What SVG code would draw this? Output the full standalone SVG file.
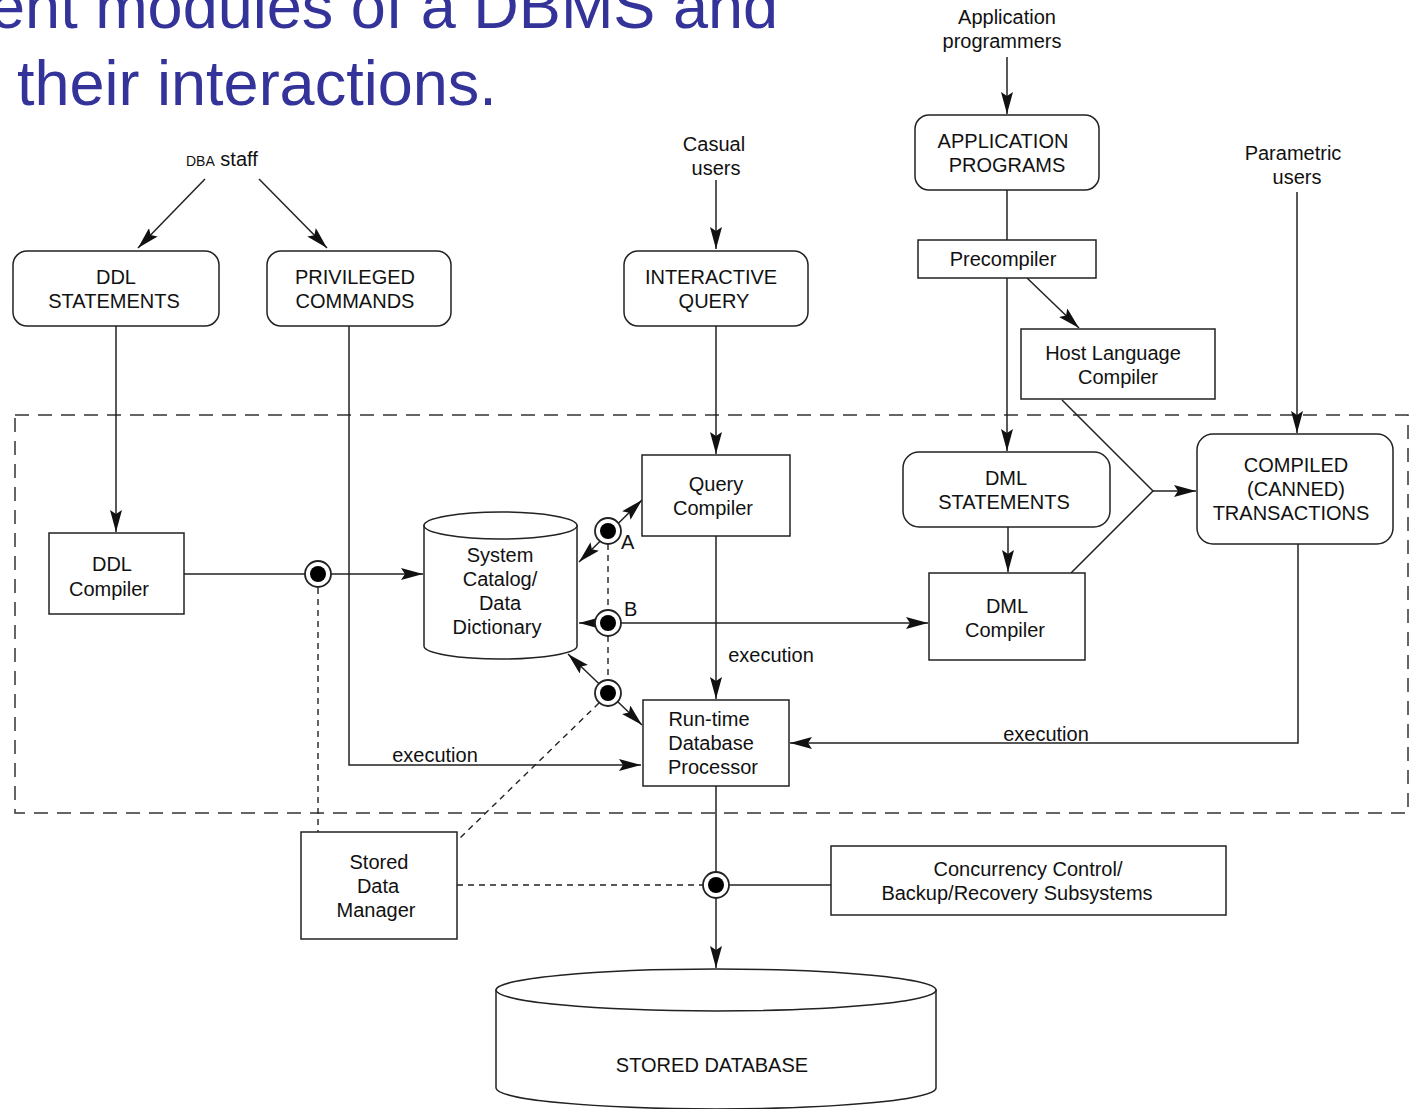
<svg xmlns="http://www.w3.org/2000/svg" width="1410" height="1109" viewBox="0 0 1410 1109">
<style>
  text { font-family: "Liberation Sans", Arial, sans-serif; font-size: 20px; fill: #111; text-anchor: middle; }
  .title { font-size: 63px; fill: #333399; text-anchor: start; }
  .box { fill: #fff; stroke: #222; stroke-width: 1.5; }
  .ln { fill: none; stroke: #222; stroke-width: 1.5; }
  .dash { fill: none; stroke: #222; stroke-width: 1.4; stroke-dasharray: 6 5; }
  .bound { fill: none; stroke: #333; stroke-width: 1.5; stroke-dasharray: 14 9; }
  .dotring { fill: #fff; stroke: #222; stroke-width: 1.8; }
  .dotcore { fill: #000; }
</style>
<defs>
  <marker id="arr" markerUnits="userSpaceOnUse" markerWidth="22" markerHeight="12" refX="22" refY="6" orient="auto-start-reverse">
    <path d="M0,0 L22,6 L0,12 L4,6 Z" fill="#111"/>
  </marker>
</defs>
<rect width="1410" height="1109" fill="#fff"/>

<g id="title">
  <text class="title" x="778" y="28" style="text-anchor:end">ent modules of a DBMS and</text>
  <text class="title" x="17" y="105">their interactions.</text>
</g>

<g id="boundary">
  <rect class="bound" x="15" y="415" width="1393" height="398"/>
</g>

<g id="connectors">
  <line class="ln" x1="205" y1="179" x2="138" y2="248" marker-end="url(#arr)"/>
  <line class="ln" x1="259" y1="179" x2="327" y2="248" marker-end="url(#arr)"/>
  <line class="ln" x1="116" y1="326" x2="116" y2="532" marker-end="url(#arr)"/>
  <polyline class="ln" points="349,326 349,765 641,765" marker-end="url(#arr)"/>
  <line class="ln" x1="716" y1="180" x2="716" y2="249" marker-end="url(#arr)"/>
  <line class="ln" x1="716" y1="326" x2="716" y2="454" marker-end="url(#arr)"/>
  <line class="ln" x1="716" y1="536" x2="716" y2="699" marker-end="url(#arr)"/>
  <line class="ln" x1="1007" y1="57" x2="1007" y2="114" marker-end="url(#arr)"/>
  <line class="ln" x1="1007" y1="190" x2="1007" y2="240"/>
  <line class="ln" x1="1007" y1="278" x2="1007" y2="451" marker-end="url(#arr)"/>
  <line class="ln" x1="1027" y1="278" x2="1079" y2="328" marker-end="url(#arr)"/>
  <line class="ln" x1="1297" y1="192" x2="1297" y2="433" marker-end="url(#arr)"/>
  <polyline class="ln" points="1062,400 1153,491 1071,573"/>
  <line class="ln" x1="1153" y1="491" x2="1196" y2="491" marker-end="url(#arr)"/>
  <line class="ln" x1="1008" y1="527" x2="1008" y2="572" marker-end="url(#arr)"/>
  <polyline class="ln" points="1298,544 1298,743 790,743" marker-end="url(#arr)"/>
  <line class="ln" x1="184" y1="574" x2="423" y2="574" marker-end="url(#arr)"/>
  <line class="ln" x1="579" y1="562" x2="642" y2="500" marker-start="url(#arr)" marker-end="url(#arr)"/>
  <line class="ln" x1="579" y1="623" x2="928" y2="623" marker-start="url(#arr)" marker-end="url(#arr)"/>
  <line class="ln" x1="568" y1="654" x2="642" y2="725" marker-start="url(#arr)" marker-end="url(#arr)"/>
  <line class="dash" x1="608" y1="544" x2="608" y2="610"/>
  <line class="dash" x1="608" y1="636" x2="608" y2="680"/>
  <line class="dash" x1="318" y1="588" x2="318" y2="832"/>
  <line class="dash" x1="599" y1="703" x2="460" y2="838"/>
  <line class="dash" x1="457" y1="885" x2="703" y2="885"/>
  <line class="ln" x1="716" y1="786" x2="716" y2="968" marker-end="url(#arr)"/>
  <line class="ln" x1="729" y1="885" x2="831" y2="885"/>
  <text x="435" y="762">execution</text>
  <text x="771" y="662">execution</text>
  <text x="1046" y="741">execution</text>
  <text x="621" y="549" style="text-anchor:start">A</text>
  <text x="624" y="616" style="text-anchor:start">B</text>
</g>

<g id="dots">
  <g id="dot-ddl"><circle class="dotring" cx="318" cy="574" r="13"/><circle class="dotcore" cx="318" cy="574" r="8"/></g>
  <g id="dot-a"><circle class="dotring" cx="608" cy="531" r="13"/><circle class="dotcore" cx="608" cy="531" r="8"/></g>
  <g id="dot-b"><circle class="dotring" cx="608" cy="623" r="13"/><circle class="dotcore" cx="608" cy="623" r="8"/></g>
  <g id="dot-c"><circle class="dotring" cx="608" cy="693" r="13"/><circle class="dotcore" cx="608" cy="693" r="8"/></g>
  <g id="dot-d"><circle class="dotring" cx="716" cy="885" r="13"/><circle class="dotcore" cx="716" cy="885" r="8"/></g>
</g>

<g id="dba-staff">
  <text x="186" y="166" style="text-anchor:start"><tspan font-size="14">DBA</tspan> staff</text>
</g>
<g id="casual-users">
  <text x="714" y="151">Casual</text>
  <text x="716" y="175">users</text>
</g>
<g id="app-programmers">
  <text x="1007" y="24">Application</text>
  <text x="1002" y="48">programmers</text>
</g>
<g id="parametric-users">
  <text x="1293" y="160">Parametric</text>
  <text x="1297" y="184">users</text>
</g>

<g id="ddl-statements">
  <rect class="box" x="13" y="251" width="206" height="75" rx="14"/>
  <text x="116" y="284">DDL</text>
  <text x="114" y="308">STATEMENTS</text>
</g>
<g id="privileged-commands">
  <rect class="box" x="267" y="251" width="184" height="75" rx="14"/>
  <text x="355" y="284">PRIVILEGED</text>
  <text x="355" y="308">COMMANDS</text>
</g>
<g id="interactive-query">
  <rect class="box" x="624" y="251" width="184" height="75" rx="14"/>
  <text x="711" y="284">INTERACTIVE</text>
  <text x="714" y="308">QUERY</text>
</g>
<g id="application-programs">
  <rect class="box" x="915" y="115" width="184" height="75" rx="14"/>
  <text x="1003" y="148">APPLICATION</text>
  <text x="1007" y="172">PROGRAMS</text>
</g>
<g id="precompiler">
  <rect class="box" x="918" y="240" width="178" height="38"/>
  <text x="1003" y="266">Precompiler</text>
</g>
<g id="host-language-compiler">
  <rect class="box" x="1021" y="329" width="194" height="70"/>
  <text x="1113" y="360">Host Language</text>
  <text x="1118" y="384">Compiler</text>
</g>
<g id="compiled-transactions">
  <rect class="box" x="1197" y="434" width="196" height="110" rx="16"/>
  <text x="1296" y="472">COMPILED</text>
  <text x="1296" y="496">(CANNED)</text>
  <text x="1291" y="520">TRANSACTIONS</text>
</g>
<g id="dml-statements">
  <rect class="box" x="903" y="452" width="207" height="75" rx="16"/>
  <text x="1006" y="485">DML</text>
  <text x="1004" y="509">STATEMENTS</text>
</g>
<g id="dml-compiler">
  <rect class="box" x="929" y="573" width="156" height="87"/>
  <text x="1007" y="613">DML</text>
  <text x="1005" y="637">Compiler</text>
</g>
<g id="query-compiler">
  <rect class="box" x="642" y="455" width="148" height="81"/>
  <text x="716" y="491">Query</text>
  <text x="713" y="515">Compiler</text>
</g>
<g id="ddl-compiler">
  <rect class="box" x="49" y="533" width="135" height="81"/>
  <text x="112" y="571">DDL</text>
  <text x="109" y="596">Compiler</text>
</g>
<g id="system-catalog">
  <path class="box" d="M424,525.5 L424,646 A76.5,13 0 0 0 577,646 L577,525.5 Z"/>
  <ellipse class="box" cx="500.5" cy="525.5" rx="76.5" ry="13.5"/>
  <text x="500" y="562">System</text>
  <text x="500" y="586">Catalog/</text>
  <text x="500" y="610">Data</text>
  <text x="497" y="634">Dictionary</text>
</g>
<g id="runtime-processor">
  <rect class="box" x="643" y="700" width="146" height="86"/>
  <text x="709" y="726">Run-time</text>
  <text x="711" y="750">Database</text>
  <text x="713" y="774">Processor</text>
</g>
<g id="stored-data-manager">
  <rect class="box" x="301" y="832" width="156" height="107"/>
  <text x="379" y="869">Stored</text>
  <text x="378" y="893">Data</text>
  <text x="376" y="917">Manager</text>
</g>
<g id="concurrency-control">
  <rect class="box" x="831" y="846" width="395" height="69"/>
  <text x="1028" y="876">Concurrency Control/</text>
  <text x="1017" y="900">Backup/Recovery Subsystems</text>
</g>
<g id="stored-database">
  <path class="box" d="M496,990 L496,1088 A220,21 0 0 0 936,1088 L936,990 Z"/>
  <ellipse class="box" cx="716" cy="990" rx="220" ry="21"/>
  <text x="712" y="1072">STORED DATABASE</text>
</g>
</svg>
